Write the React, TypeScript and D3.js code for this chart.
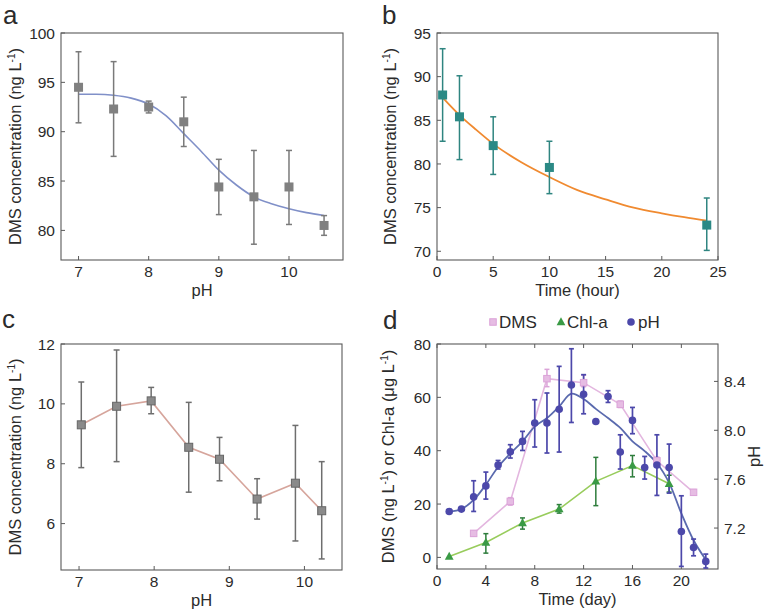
import React from "react";
import * as d3 from "d3";

const FONT = "'Liberation Sans', Arial, Helvetica, sans-serif";

// ---------- Panel a ----------
const aPH = [7, 7.5, 8, 8.5, 9, 9.5, 10, 10.5];
const aDMS = [94.5, 92.3, 92.5, 91.0, 84.4, 83.4, 84.4, 80.5];
const aLow = [90.9, 87.5, 91.9, 88.5, 81.6, 78.6, 80.6, 79.5];
const aHigh = [98.1, 97.1, 93.1, 93.5, 87.2, 88.1, 88.1, 81.5];
const aFitPH = [7, 7.25, 7.5, 7.75, 8, 8.25, 8.5, 8.75, 9, 9.25, 9.5, 9.75, 10, 10.25, 10.5];
const aFitDMS = [93.8, 93.8, 93.7, 93.4, 92.8, 91.6, 89.8, 88.0, 86.1, 84.6, 83.4, 82.7, 82.2, 81.8, 81.5];
const aXTicks = [7, 8, 9, 10];
const aYTicks = [80, 85, 90, 95, 100];

// ---------- Panel b ----------
const bTime = [0.5, 2, 5, 10, 24];
const bDMS = [87.9, 85.4, 82.1, 79.6, 73.0];
const bLow = [82.6, 80.5, 78.8, 76.6, 70.1];
const bHigh = [93.2, 90.1, 85.4, 82.6, 76.1];
const bFitTime = [0.5, 2, 3.5, 5, 7.5, 10, 12.5, 15, 17.5, 20, 22, 24];
const bFitDMS = [87.6, 85.6, 83.9, 82.3, 80.2, 78.5, 77.0, 75.95, 75.0, 74.35, 73.9, 73.5];
const bXTicks = [0, 5, 10, 15, 20, 25];
const bYTicks = [70, 75, 80, 85, 90, 95];

// ---------- Panel c ----------
const cPH = [7.03, 7.5, 7.96, 8.46, 8.87, 9.37, 9.88, 10.23];
const cDMS = [9.3, 9.92, 10.1, 8.55, 8.15, 6.82, 7.35, 6.43];
const cLow = [7.87, 8.07, 9.67, 7.05, 7.43, 6.15, 5.42, 4.82];
const cHigh = [10.73, 11.8, 10.55, 10.05, 8.88, 7.5, 9.28, 8.07];
const cXTicks = [7, 8, 9, 10];
const cYTicks = [6, 8, 10, 12];

// ---------- Panel d ----------
const dDmsDay = [3, 6, 9, 12, 15, 18, 21];
const dDms = [9.0, 21.0, 67.0, 65.5, 57.4, 36.2, 24.4];
const dDmsLow = [8.0, 19.6, 64.0, 64.0, 56.2, 34.8, 23.4];
const dDmsHigh = [10.0, 22.4, 70.5, 68.3, 58.6, 37.6, 25.4];

const dChlDay = [1, 4, 7, 10, 13, 16, 19];
const dChl = [0.3, 5.6, 12.9, 18.1, 28.5, 34.4, 27.6];
const dChlLow = [0.3, 1.6, 10.6, 16.6, 19.4, 30.2, 24.5];
const dChlHigh = [0.3, 8.9, 14.8, 19.8, 37.5, 38.2, 30.8];

const dPHDay = [1, 2, 3, 4, 5, 6, 7, 8, 9, 10, 11, 12, 13, 14, 15, 16, 17, 18, 19, 20, 21, 22];
const dPH = [7.336, 7.355, 7.455, 7.545, 7.716, 7.824, 7.909, 8.059, 8.059, 8.172, 8.37, 8.295, 8.072, 8.277, 7.822, 8.081, 7.696, 7.716, 7.696, 7.172, 7.041, 6.927];
const dPHLow = [7.336, 7.355, 7.336, 7.437, 7.683, 7.773, 7.835, 7.863, 7.814, 7.822, 8.064, 8.135, 8.072, 8.228, 7.683, 7.972, 7.601, 7.467, 7.486, 6.886, 6.973, 6.873];
const dPHHigh = [7.336, 7.355, 7.587, 7.658, 7.753, 7.882, 7.991, 8.25, 8.305, 8.523, 8.667, 8.455, 8.072, 8.324, 7.963, 8.187, 7.786, 7.963, 7.887, 7.464, 7.11, 6.987];
const dFitDay = [1, 2, 3, 4, 5, 6, 7, 8, 9, 10, 11, 12, 13, 14, 15, 16, 17, 18, 19, 20, 21, 22];
const dFitPH = [7.336, 7.355, 7.43, 7.555, 7.70, 7.81, 7.91, 8.03, 8.10, 8.195, 8.30, 8.256, 8.175, 8.10, 8.02, 7.91, 7.83, 7.73, 7.57, 7.32, 7.10, 6.94];
const dXTicks = [0, 4, 8, 12, 16, 20];
const dYTicks = [0, 20, 40, 60, 80];
const dPHTicks = [7.2, 7.6, 8.0, 8.4];
const legendLabels = ["DMS", "Chl-a", "pH"];

type Box = { l: number; t: number; r: number; b: number };
const TXT = "#2b2b2b";
const AX = "#5a5a5a";
const FS = 15.5;
const TS = 16.5;

function Frame(props: {
  box: Box;
  x: d3.ScaleLinear<number, number>;
  y: d3.ScaleLinear<number, number>;
  xTicks: number[];
  yTicks: number[];
  topTicks?: boolean;
}) {
  const { box, x, y, xTicks, yTicks, topTicks } = props;
  return (
    <g>
      <rect x={box.l} y={box.t} width={box.r - box.l} height={box.b - box.t} fill="none" stroke={AX} strokeWidth={1.1} />
      {xTicks.map((v) => (
        <g key={"x" + v}>
          <line x1={x(v)} x2={x(v)} y1={box.b} y2={box.b - 4} stroke={AX} strokeWidth={1} />
          {topTicks && <line x1={x(v)} x2={x(v)} y1={box.t} y2={box.t + 4} stroke={AX} strokeWidth={1} />}
          <text x={x(v)} y={box.b + 17} textAnchor="middle" fontSize={FS} fill={TXT}>
            {v}
          </text>
        </g>
      ))}
      {yTicks.map((v) => (
        <g key={"y" + v}>
          <line x1={box.l} x2={box.l + 4} y1={y(v)} y2={y(v)} stroke={AX} strokeWidth={1} />
          <text x={box.l - 6} y={y(v)} dy="0.36em" textAnchor="end" fontSize={FS} fill={TXT}>
            {v}
          </text>
        </g>
      ))}
    </g>
  );
}

function ErrBars(props: {
  xs: number[]; lo: number[]; hi: number[];
  x: d3.ScaleLinear<number, number>; y: d3.ScaleLinear<number, number>;
  color: string; cap: number; width?: number;
}) {
  const { xs, lo, hi, x, y, color, cap, width } = props;
  return (
    <g stroke={color} strokeWidth={width || 1.5}>
      {xs.map((v, i) =>
        hi[i] - lo[i] < 0.001 ? null : (
          <g key={i}>
            <line x1={x(v)} x2={x(v)} y1={y(lo[i])} y2={y(hi[i])} />
            <line x1={x(v) - cap / 2} x2={x(v) + cap / 2} y1={y(lo[i])} y2={y(lo[i])} />
            <line x1={x(v) - cap / 2} x2={x(v) + cap / 2} y1={y(hi[i])} y2={y(hi[i])} />
          </g>
        )
      )}
    </g>
  );
}

function YTitle(props: { x: number; y: number; pre: string; post?: string; post2?: string }) {
  const { x, y, pre, post, post2 } = props;
  return (
    <text transform={`translate(${x},${y}) rotate(-90)`} textAnchor="middle" fontSize={TS} fill={TXT}>
      {pre}
      <tspan dy={-6} fontSize={10}>-1</tspan>
      <tspan dy={6}>{post || ")"}</tspan>
      {post2 !== undefined && (
        <>
          <tspan dy={-6} fontSize={10}>-1</tspan>
          <tspan dy={6}>{post2}</tspan>
        </>
      )}
    </text>
  );
}

export default function App() {
  // Panel a
  const boxA: Box = { l: 61, t: 33, r: 343, b: 260 };
  const xA = d3.scaleLinear().domain([6.75, 10.77]).range([boxA.l, boxA.r]);
  const yA = d3.scaleLinear().domain([77, 100]).range([boxA.b, boxA.t]);
  const lineA = d3.line<number>().x((d, i) => xA(aFitPH[i])).y((d) => yA(d)).curve(d3.curveMonotoneX);

  // Panel b
  const boxB: Box = { l: 437, t: 33, r: 718, b: 260 };
  const xB = d3.scaleLinear().domain([0, 25]).range([boxB.l, boxB.r]);
  const yB = d3.scaleLinear().domain([69, 95]).range([boxB.b, boxB.t]);
  const lineB = d3.line<number>().x((d, i) => xB(bFitTime[i])).y((d) => yB(d)).curve(d3.curveMonotoneX);

  // Panel c
  const boxC: Box = { l: 61, t: 344, r: 342, b: 570 };
  const xC = d3.scaleLinear().domain([6.76, 10.5]).range([boxC.l, boxC.r]);
  const yC = d3.scaleLinear().domain([4.45, 12]).range([boxC.b, boxC.t]);
  const lineC = d3.line<number>().x((d, i) => xC(cPH[i])).y((d) => yC(d));

  // Panel d
  const boxD: Box = { l: 437, t: 344, r: 718, b: 569 };
  const xD = d3.scaleLinear().domain([0, 23]).range([boxD.l, boxD.r]);
  const yD = d3.scaleLinear().domain([-4.35, 80]).range([boxD.b, boxD.t]);
  const yDR = d3.scaleLinear().domain([6.865, 8.706]).range([boxD.b, boxD.t]);
  const lineDms = d3.line<number>().x((d, i) => xD(dDmsDay[i])).y((d) => yD(d));
  const lineChl = d3.line<number>().x((d, i) => xD(dChlDay[i])).y((d) => yD(d));
  const lineFit = d3.line<number>().x((d, i) => xD(dFitDay[i])).y((d) => yDR(d)).curve(d3.curveCatmullRom.alpha(0.5));

  const sq = (cx: number, cy: number, s: number) => ({ x: cx - s / 2, y: cy - s / 2, width: s, height: s });
  const tri = (cx: number, cy: number, s: number) =>
    `M${cx},${cy - s * 0.6}L${cx + s * 0.55},${cy + s * 0.4}L${cx - s * 0.55},${cy + s * 0.4}Z`;

  const pink = "#dba3d8";
  const pinkLine = "#e3b6df";
  const green = "#3a9a45";
  const greenBar = "#2e7d3c";
  const greenLine = "#98cc5c";
  const blue = "#4c48aa";
  const blueLine = "#5a6aae";

  return (
    <svg
      width={766}
      height={613}
      style={{ position: "absolute", left: 0, top: 0, display: "block", fontFamily: FONT, background: "#fff" }}
      fontFamily={FONT}
    >
      {/* panel letters */}
      <text x={3} y={24} fontSize={26} fill={TXT}>a</text>
      <text x={382} y={24} fontSize={26} fill={TXT}>b</text>
      <text x={2} y={328} fontSize={26} fill={TXT}>c</text>
      <text x={383} y={329} fontSize={26} fill={TXT}>d</text>

      {/* ---- a ---- */}
      <Frame box={boxA} x={xA} y={yA} xTicks={aXTicks} yTicks={aYTicks} />
      <path d={lineA(aFitDMS) || ""} fill="none" stroke="#8090c8" strokeWidth={1.6} />
      <ErrBars xs={aPH} lo={aLow} hi={aHigh} x={xA} y={yA} color="#7a7a7a" cap={6} />
      {aPH.map((v, i) => (
        <rect key={i} {...sq(xA(v), yA(aDMS[i]), 9)} fill="#808080" />
      ))}
      <text x={(boxA.l + boxA.r) / 2} y={boxA.b + 36} textAnchor="middle" fontSize={TS} fill={TXT}>pH</text>
      <YTitle x={21} y={(boxA.t + boxA.b) / 2} pre="DMS concentration (ng L" />

      {/* ---- b ---- */}
      <Frame box={boxB} x={xB} y={yB} xTicks={bXTicks} yTicks={bYTicks} />
      <path d={lineB(bFitDMS) || ""} fill="none" stroke="#f08a30" strokeWidth={1.8} />
      <ErrBars xs={bTime} lo={bLow} hi={bHigh} x={xB} y={yB} color="#2f8580" cap={6} />
      {bTime.map((v, i) => (
        <rect key={i} {...sq(xB(v), yB(bDMS[i]), 9)} fill="#2b8985" />
      ))}
      <text x={(boxB.l + boxB.r) / 2} y={boxB.b + 36} textAnchor="middle" fontSize={TS} fill={TXT}>Time (hour)</text>
      <YTitle x={396} y={(boxB.t + boxB.b) / 2} pre="DMS concentration (ng L" />

      {/* ---- c ---- */}
      <Frame box={boxC} x={xC} y={yC} xTicks={cXTicks} yTicks={cYTicks} />
      <path d={lineC(cDMS) || ""} fill="none" stroke="#d6a59c" strokeWidth={1.6} />
      <ErrBars xs={cPH} lo={cLow} hi={cHigh} x={xC} y={yC} color="#6e6e6e" cap={6} />
      {cPH.map((v, i) => (
        <rect key={i} {...sq(xC(v), yC(cDMS[i]), 8)} fill="#8a8a8a" stroke="#666" strokeWidth={1} />
      ))}
      <text x={(boxC.l + boxC.r) / 2} y={boxC.b + 36} textAnchor="middle" fontSize={TS} fill={TXT}>pH</text>
      <YTitle x={21} y={(boxC.t + boxC.b) / 2} pre="DMS concentration (ng L" />

      {/* ---- d ---- */}
      <Frame box={boxD} x={xD} y={yD} xTicks={dXTicks} yTicks={dYTicks} topTicks={true} />
      {dPHTicks.map((v) => (
        <g key={"r" + v}>
          <line x1={boxD.r} x2={boxD.r - 4} y1={yDR(v)} y2={yDR(v)} stroke={AX} strokeWidth={1} />
          <text x={boxD.r + 6} y={yDR(v)} dy="0.36em" fontSize={FS} fill={TXT}>{v.toFixed(1)}</text>
        </g>
      ))}
      <path d={lineDms(dDms) || ""} fill="none" stroke={pinkLine} strokeWidth={1.6} />
      <path d={lineChl(dChl) || ""} fill="none" stroke={greenLine} strokeWidth={1.6} />
      <path d={lineFit(dFitPH) || ""} fill="none" stroke={blueLine} strokeWidth={1.8} />
      <ErrBars xs={dDmsDay} lo={dDmsLow} hi={dDmsHigh} x={xD} y={yD} color={pink} cap={5} />
      <ErrBars xs={dChlDay} lo={dChlLow} hi={dChlHigh} x={xD} y={yD} color={greenBar} cap={5} />
      <ErrBars xs={dPHDay} lo={dPHLow} hi={dPHHigh} x={xD} y={yDR} color={blue} cap={5} width={1.7} />
      {dDmsDay.map((v, i) => (
        <rect key={"dm" + i} {...sq(xD(v), yD(dDms[i]), 6.5)} fill="#e6bce3" stroke={pink} strokeWidth={1} />
      ))}
      {dChlDay.map((v, i) => (
        <path key={"ch" + i} d={tri(xD(v), yD(dChl[i]), 8)} fill={green} />
      ))}
      {dPHDay.map((v, i) => (
        <circle key={"ph" + i} cx={xD(v)} cy={yDR(dPH[i])} r={3.8} fill={blue} />
      ))}
      <text x={(boxD.l + boxD.r) / 2} y={boxD.b + 36} textAnchor="middle" fontSize={TS} fill={TXT}>Time (day)</text>
      <YTitle x={394} y={(boxD.t + boxD.b) / 2} pre="DMS (ng L" post=") or Chl-a (μg L" post2=")" />
      <text transform={`translate(${760},${(boxD.t + boxD.b) / 2}) rotate(-90)`} textAnchor="middle" fontSize={TS} fill={TXT}>pH</text>

      {/* legend */}
      <rect {...sq(493, 322, 6.5)} fill="#e6bce3" stroke={pink} strokeWidth={1} />
      <text x={499} y={328} fontSize={17} fill={TXT}>{legendLabels[0]}</text>
      <path d={tri(561, 322, 8)} fill={green} />
      <text x={567} y={328} fontSize={17} fill={TXT}>{legendLabels[1]}</text>
      <circle cx={631} cy={322} r={3.8} fill={blue} />
      <text x={638} y={328} fontSize={17} fill={TXT}>{legendLabels[2]}</text>
    </svg>
  );
}
